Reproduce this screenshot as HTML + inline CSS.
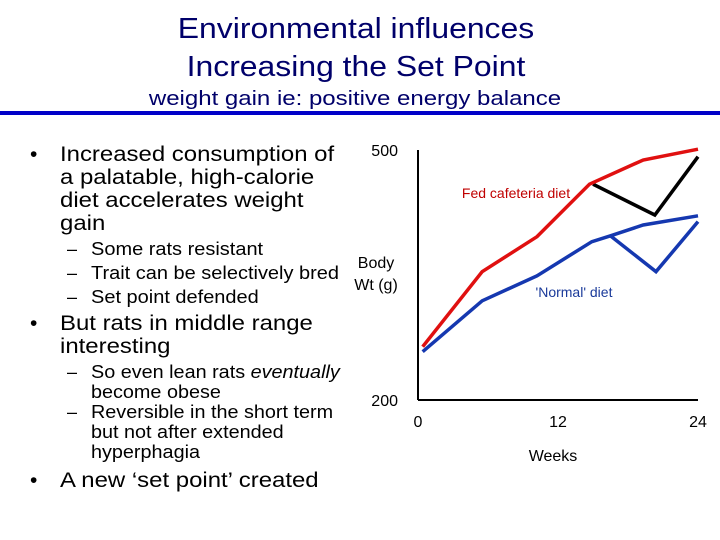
<!DOCTYPE html>
<html><head><meta charset="utf-8"><style>
body{margin:0;width:720px;height:540px;background:#fff;font-family:"Liberation Sans",sans-serif;position:relative;overflow:hidden}
.t{position:absolute;white-space:nowrap}
.s{transform-origin:0 0}
</style></head><body>
<div class="t" style="left:0;width:712px;top:10px;text-align:center;font-size:29px;color:#00006a;line-height:38px;transform:scaleX(1.1);transform-origin:356px 0">Environmental influences<br>Increasing the Set Point</div>
<div class="t" style="left:0;width:710px;top:88px;text-align:center;font-size:20px;color:#00006a;transform:scaleX(1.2);transform-origin:355px 0">weight gain ie: positive energy balance</div>
<div style="position:absolute;left:0;top:111px;width:720px;height:4px;background:#0000c8"></div>
<div style="position:absolute;left:0;top:0;color:#000">
<div class="t" style="left:30px;top:143px;font-size:21px">•</div>
<div class="t s" style="left:60px;top:143px;font-size:21px;line-height:23px;transform:scaleX(1.14)">Increased consumption of<br>a palatable, high-calorie<br>diet accelerates weight<br>gain</div>
<div class="t" style="left:67px;top:237px;font-size:18px;line-height:24px">–<br>–<br>–</div>
<div class="t s" style="left:91px;top:237px;font-size:18px;line-height:24px;transform:scaleX(1.11)">Some rats resistant<br>Trait can be selectively bred<br>Set point defended</div>
<div class="t" style="left:30px;top:312px;font-size:21px">•</div>
<div class="t s" style="left:60px;top:312px;font-size:21px;line-height:23px;transform:scaleX(1.14)">But rats in middle range<br>interesting</div>
<div class="t" style="left:67px;top:362px;font-size:18px;line-height:20px">–<br><br>–</div>
<div class="t s" style="left:91px;top:362px;font-size:18px;line-height:20px;transform:scaleX(1.1)">So even lean rats <i>eventually</i><br>become obese<br>Reversible in the short term<br>but not after extended<br>hyperphagia</div>
<div class="t" style="left:30px;top:469px;font-size:21px">•</div>
<div class="t s" style="left:60px;top:469px;font-size:21px;transform:scaleX(1.14)">A new ‘set point’ created</div>
</div>
<svg id="chart" width="720" height="540" style="position:absolute;left:0;top:0" font-family="Liberation Sans, sans-serif">
<line x1="418" y1="150" x2="418" y2="400" stroke="#000" stroke-width="2"/>
<line x1="418" y1="400" x2="698" y2="400" stroke="#000" stroke-width="2"/>
<g id="ticks"></g><g id="lines"></g>
<text x="376" y="268" font-size="16" text-anchor="middle">Body</text>
<text x="376" y="290" font-size="16" text-anchor="middle">Wt (g)</text>
<text x="553" y="461" font-size="16" text-anchor="middle">Weeks</text>
<text x="516" y="198" font-size="14" fill="#c00000" text-anchor="middle">Fed cafeteria diet</text>
<text x="574" y="297" font-size="14" fill="#1a3a9a" text-anchor="middle">'Normal' diet</text>
</svg>
<script>
const xTicks=[0,12,24];
const yTicks=[200,500];
const redWeeks=[0.4,5.5,10.2,14.7,19.3,24];
const redVals=[264,354,396,459,488,501];
const blackWeeks=[15,20.3,24];
const blackVals=[459,422,492];
const blueWeeks=[0.4,5.5,10.2,14.9,16.5,19.3,24];
const blueVals=[258,319,349,390,397,410,421];
const blueDipWeeks=[16.5,20.4,24];
const blueDipVals=[397,354,414];
const X=w=>418+w*280/24, Y=v=>400-(v-200)*250/300;
const NS="http://www.w3.org/2000/svg";
const tg=document.getElementById('ticks'), lg=document.getElementById('lines');
xTicks.forEach(t=>{const e=document.createElementNS(NS,'text');


e.setAttribute('x',X(t));e.setAttribute('y',427);e.setAttribute('font-size',16);e.setAttribute('text-anchor','middle');e.textContent=t;tg.appendChild(e);});
yTicks.forEach(t=>{const e=document.createElementNS(NS,'text');


e.setAttribute('x',398);e.setAttribute('y',Y(t)+6);e.setAttribute('font-size',16);e.setAttribute('text-anchor','end');e.textContent=t;tg.appendChild(e);});
function line(ws,vs,col,name){const p=document.createElementNS(NS,'polyline');


p.setAttribute('points',ws.map((w,i)=>X(w)+','+Y(vs[i])).join(' '));p.setAttribute('fill','none');p.setAttribute('stroke',col);p.setAttribute('stroke-width',3.5);lg.appendChild(p);}
line(blackWeeks,blackVals,'#000','reversal-line');
line(blueDipWeeks,blueDipVals,'#1538b0','normal-dip-line');
line(blueWeeks,blueVals,'#1538b0','normal-diet-line');
line(redWeeks,redVals,'#e01010','cafeteria-diet-line');
</script>
</body></html>
